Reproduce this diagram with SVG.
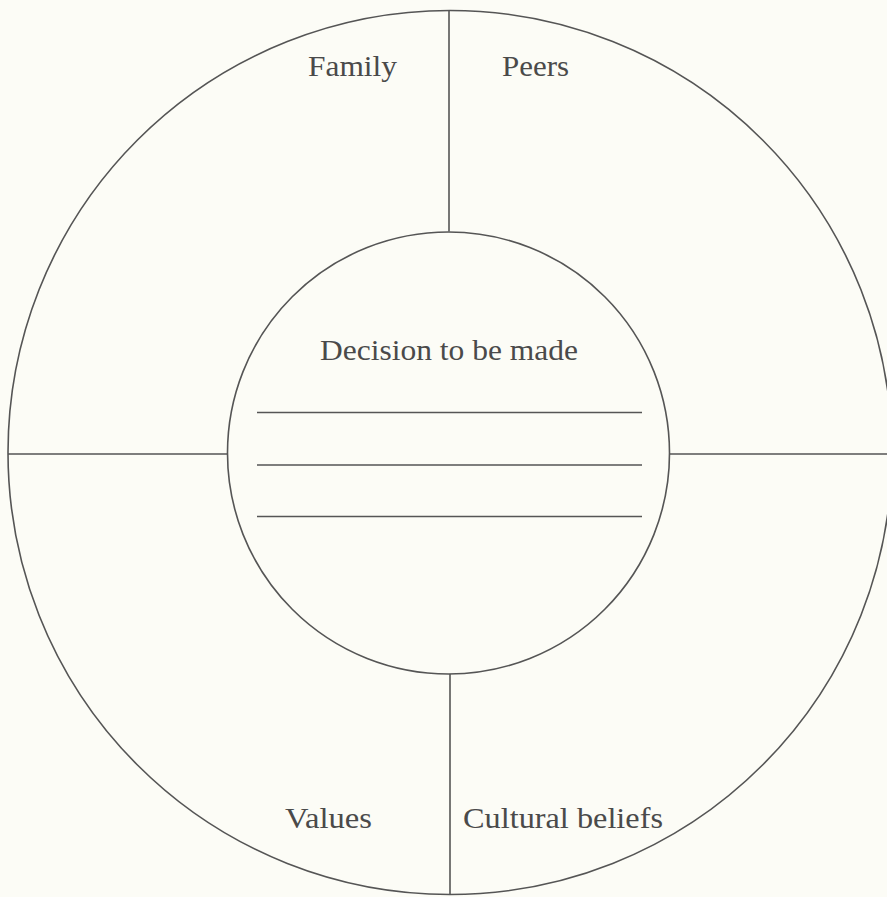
<svg xmlns="http://www.w3.org/2000/svg" width="887" height="897" viewBox="0 0 887 897">
<style>
.ln{fill:none;stroke:#555;stroke-width:1.6}
.t{font-family:"Liberation Serif","Times New Roman",serif;font-size:29px;fill:#4a4a4a}
</style>
<rect width="887" height="897" fill="#fcfcf6"/>
<g id="outer"><circle class="ln" cx="450" cy="452.5" r="442"/></g>
<g id="connectors">
<line class="ln" x1="449" y1="10" x2="449" y2="231.5"/>
<line class="ln" x1="450" y1="674" x2="450" y2="895"/>
<line class="ln" x1="8" y1="454" x2="228" y2="454"/>
<line class="ln" x1="669" y1="454" x2="887" y2="454"/>
</g>
<g id="center">
<circle class="ln" cx="448.5" cy="453" r="221"/>
<text class="t" x="320" y="360" textLength="258" lengthAdjust="spacingAndGlyphs">Decision to be made</text>
<line class="ln" x1="257" y1="412.5" x2="642" y2="412.5"/>
<line class="ln" x1="257" y1="465" x2="642" y2="465"/>
<line class="ln" x1="257" y1="516.5" x2="642" y2="516.5"/>
</g>
<g id="family"><text class="t" x="308" y="76" textLength="89" lengthAdjust="spacingAndGlyphs">Family</text></g>
<g id="peers"><text class="t" x="502" y="76" textLength="67" lengthAdjust="spacingAndGlyphs">Peers</text></g>
<g id="values"><text class="t" x="285" y="828" textLength="87" lengthAdjust="spacingAndGlyphs">Values</text></g>
<g id="cultural"><text class="t" x="463" y="828" textLength="200" lengthAdjust="spacingAndGlyphs">Cultural beliefs</text></g>
</svg>
